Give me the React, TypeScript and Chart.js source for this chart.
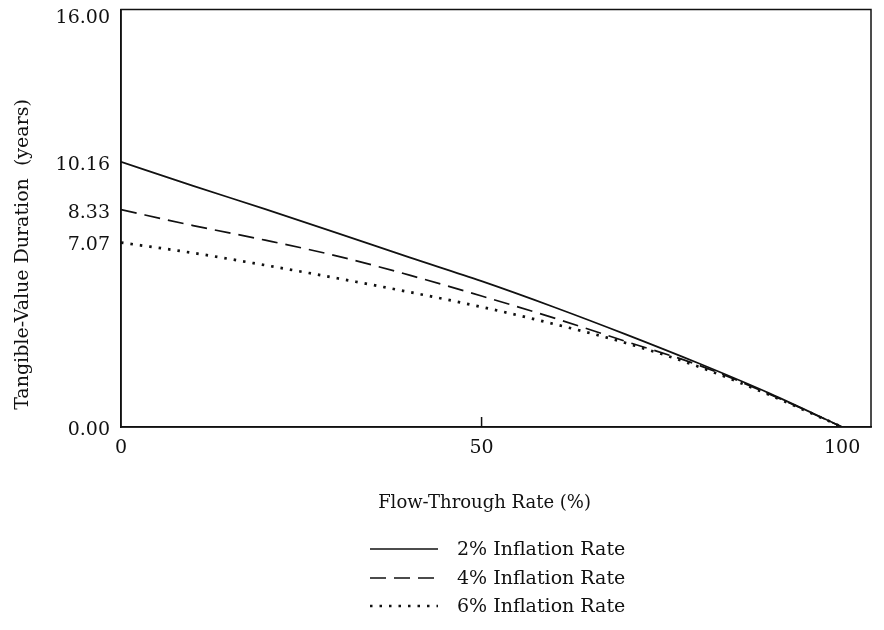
import React, { useEffect, useRef } from "react";
import { Chart, registerables } from "chart.js";

Chart.register(...registerables);

const flowThroughRate = [0, 10, 20, 30, 40, 50, 60, 70, 80, 90, 100];
const inflation2 = [10.16, 9.24, 8.35, 7.43, 6.5, 5.59, 4.6, 3.55, 2.45, 1.28, 0];
const inflation4 = [8.33, 7.72, 7.16, 6.55, 5.82, 5.02, 4.18, 3.28, 2.38, 1.25, 0];
const inflation6 = [7.07, 6.67, 6.2, 5.7, 5.17, 4.6, 3.95, 3.22, 2.32, 1.22, 0];
const seriesLabels = ["2% Inflation Rate", "4% Inflation Rate", "6% Inflation Rate"];
const yTickValues = [0, 7.07, 8.33, 10.16, 16];
const yMax = 16;
const xTickValues = [0, 50, 100];
const xTitle = "Flow-Through Rate (%)";
const yTitle = "Tangible-Value Duration  (years)";

const FONT = "'DejaVu Serif', 'Liberation Serif', serif";
const INK = "#111";

const framePlugin = {
  id: "frameAndLegend",
  afterDraw(chart: any) {
    const { ctx, chartArea } = chart;
    const xs = chart.scales.x;
    ctx.save();
    ctx.strokeStyle = INK;
    ctx.lineWidth = 1.5;
    ctx.strokeRect(chartArea.left, chartArea.top, chartArea.right - chartArea.left, chartArea.bottom - chartArea.top);
    const px = xs.getPixelForValue(50);
    ctx.beginPath();
    ctx.moveTo(px, chartArea.bottom);
    ctx.lineTo(px, chartArea.bottom - 10);
    ctx.stroke();

    const rows = [551, 580, 608];
    const lineX0 = 362;
    const lineX1 = 430;
    const textX = 449;
    ctx.font = "19px " + FONT;
    ctx.textBaseline = "middle";
    ctx.fillStyle = INK;
    chart.data.datasets.forEach((ds: any, i: number) => {
      const y = rows[i];
      ctx.beginPath();
      ctx.setLineDash(ds.borderDash || []);
      ctx.lineWidth = ds.borderWidth;
      ctx.strokeStyle = ds.borderColor;
      ctx.moveTo(lineX0, y);
      ctx.lineTo(lineX1, y);
      ctx.stroke();
      ctx.setLineDash([]);
      ctx.fillText(ds.label, textX, y + 1);
    });
    ctx.restore();
  },
};

export default function App() {
  const ref = useRef<HTMLCanvasElement>(null);
  useEffect(() => {
    if (!ref.current) return;
    const mk = (label: string, data: number[], dash: number[], width: number) => ({
      label,
      data: flowThroughRate.map((x, i) => ({ x, y: data[i] })),
      borderColor: INK,
      borderWidth: width,
      borderDash: dash,
      pointRadius: 0,
      fill: false,
      cubicInterpolationMode: "monotone" as const,
    });
    const chart = new Chart(ref.current, {
      type: "line",
      data: {
        datasets: [
          mk(seriesLabels[0], inflation2, [], 1.7),
          mk(seriesLabels[1], inflation4, [16, 8], 1.7),
          mk(seriesLabels[2], inflation6, [2.5, 7], 2.7),
        ],
      },
      options: {
        animation: false,
        responsive: true,
        maintainAspectRatio: false,
        layout: { padding: { left: 0, right: 5, top: 11.5, bottom: 112 } },
        plugins: { legend: { display: false }, tooltip: { enabled: false } },
        scales: {
          x: {
            type: "linear",
            min: 0,
            max: 104,
            afterBuildTicks: (s: any) => {
              s.ticks = xTickValues.map((v) => ({ value: v }));
            },
            afterFit: (s: any) => {
              s.height = 91;
            },
            ticks: { color: INK, font: { family: FONT, size: 19 }, padding: 10, maxRotation: 0 },
            grid: { display: false, drawTicks: false },
            border: { display: true, color: INK, width: 1.5 },
            title: {
              display: true,
              text: xTitle + "    ",
              color: INK,
              font: { family: FONT, size: 18 },
              padding: { top: 0, bottom: 4 },
            },
          },
          y: {
            type: "linear",
            min: 0,
            max: yMax,
            afterBuildTicks: (s: any) => {
              s.ticks = yTickValues.map((v) => ({ value: v }));
            },
            afterFit: (s: any) => {
              s.width = 113;
              s.paddingTop = 0;
              s.paddingBottom = 0;
            },
            ticks: {
              color: INK,
              font: (c: any) =>
                c.tick && c.tick.value === yMax
                  ? { family: FONT, size: 19, lineHeight: 0.55 }
                  : { family: FONT, size: 19 },
              padding: 11,
              labelOffset: 3,
              callback: (v: any) => (Number(v) === yMax ? ["", Number(v).toFixed(2)] : Number(v).toFixed(2)),
            },
            grid: { display: false, drawTicks: false },
            border: { display: true, color: INK, width: 1.5 },
            title: {
              display: true,
              text: yTitle + "            ",
              color: INK,
              font: { family: FONT, size: 19 },
              padding: { top: 4, bottom: 0 },
            },
          },
        },
      },
      plugins: [framePlugin],
    });
    return () => chart.destroy();
  }, []);
  return (
    <div style={{ position: "relative", width: 868, height: 632, marginTop: -10, background: "#fff" }}>
      <canvas ref={ref} />
    </div>
  );
}
